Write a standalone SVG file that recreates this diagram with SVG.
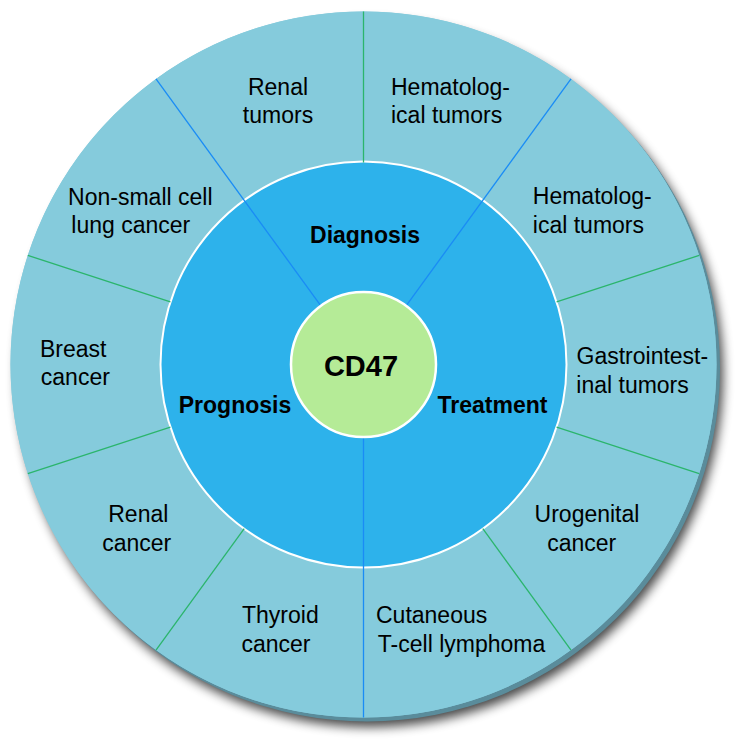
<svg xmlns="http://www.w3.org/2000/svg" width="750" height="751" viewBox="0 0 750 751">
<defs>
<filter id="shadow" x="-10%" y="-10%" width="125%" height="125%">
<feGaussianBlur stdDeviation="5.5"/>
</filter>
</defs>
<style>
.seg{fill:#85cbdc;}
.core{fill:#2db2eb;}
.t{font-family:"Liberation Sans",Arial,sans-serif;font-size:23px;fill:#000;}
.b{font-family:"Liberation Sans",Arial,sans-serif;font-size:23px;font-weight:bold;fill:#000;text-anchor:middle;}
.m{text-anchor:middle;}
.gl{stroke:#2bb56c;stroke-width:1.3;fill:none;}
.bl{stroke:#1a8cf5;stroke-width:1.3;fill:none;}
</style>
<rect width="750" height="751" fill="#ffffff"/>
<!-- shadow and rim -->
<circle cx="370" cy="374" r="353" fill="#000" opacity="0.72" filter="url(#shadow)"/>
<circle cx="367" cy="368.5" r="353" fill="#5a8c9b"/>
<circle cx="363.5" cy="364.5" r="353" class="seg"/>
<circle cx="363.5" cy="364.5" r="203" class="core"/>

<g id="seg-renal-tumors">
<path class="seg" d="M156.0 78.9 A353 353 0 0 1 363.5 11.5 L363.5 161.5 A203 203 0 0 0 244.2 200.3 Z"/>
<text class="t m" x="278" y="95">Renal</text>
<text class="t m" x="278" y="123">tumors</text>
</g>
<g id="seg-hematological-1">
<path class="seg" d="M363.5 11.5 A353 353 0 0 1 571.0 78.9 L482.8 200.3 A203 203 0 0 0 363.5 161.5 Z"/>
<text class="t" x="391" y="94.5">Hematolog-</text>
<text class="t" x="391" y="122.8">ical tumors</text>
</g>
<g id="seg-hematological-2">
<path class="seg" d="M571.0 78.9 A353 353 0 0 1 699.2 255.4 L556.6 301.8 A203 203 0 0 0 482.8 200.3 Z"/>
<text class="t" x="532.8" y="204.2">Hematolog-</text>
<text class="t" x="532.8" y="232.5">ical tumors</text>
</g>
<g id="seg-gastrointestinal">
<path class="seg" d="M699.2 255.4 A353 353 0 0 1 699.2 473.6 L556.6 427.2 A203 203 0 0 0 556.6 301.8 Z"/>
<text class="t" x="576.5" y="364.3">Gastrointest-</text>
<text class="t" x="576.3" y="392.5">inal tumors</text>
</g>
<g id="seg-urogenital">
<path class="seg" d="M699.2 473.6 A353 353 0 0 1 571.0 650.1 L482.8 528.7 A203 203 0 0 0 556.6 427.2 Z"/>
<text class="t m" x="587" y="522">Urogenital</text>
<text class="t m" x="581.7" y="550.5">cancer</text>
</g>
<g id="seg-cutaneous">
<path class="seg" d="M571.0 650.1 A353 353 0 0 1 363.5 717.5 L363.5 567.5 A203 203 0 0 0 482.8 528.7 Z"/>
<text class="t" x="376" y="623.3">Cutaneous</text>
<text class="t" x="377.8" y="651.7">T-cell lymphoma</text>
</g>
<g id="seg-thyroid">
<path class="seg" d="M363.5 717.5 A353 353 0 0 1 156.0 650.1 L244.2 528.7 A203 203 0 0 0 363.5 567.5 Z"/>
<text class="t" x="242" y="623.3">Thyroid</text>
<text class="t" x="241.4" y="651.7">cancer</text>
</g>
<g id="seg-renal-cancer">
<path class="seg" d="M156.0 650.1 A353 353 0 0 1 27.8 473.6 L170.4 427.2 A203 203 0 0 0 244.2 528.7 Z"/>
<text class="t m" x="138.3" y="522">Renal</text>
<text class="t m" x="136.7" y="550.5">cancer</text>
</g>
<g id="seg-breast">
<path class="seg" d="M27.8 473.6 A353 353 0 0 1 27.8 255.4 L170.4 301.8 A203 203 0 0 0 170.4 427.2 Z"/>
<text class="t" x="40" y="356.7">Breast</text>
<text class="t" x="40.8" y="384.8">cancer</text>
</g>
<g id="seg-nsclc">
<path class="seg" d="M27.8 255.4 A353 353 0 0 1 156.0 78.9 L244.2 200.3 A203 203 0 0 0 170.4 301.8 Z"/>
<text class="t m" x="140.3" y="205">Non-small cell</text>
<text class="t m" x="130.8" y="233.3">lung cancer</text>
</g>

<g id="diagnosis">
<path class="core" d="M244.2 200.3 A203 203 0 0 1 482.8 200.3 L406.1 305.85 A72.5 72.5 0 0 0 320.9 305.85 Z"/>
<text class="b" x="365" y="242.7">Diagnosis</text>
</g>
<g id="treatment">
<path class="core" d="M482.8 200.3 A203 203 0 0 1 363.5 567.5 L363.5 437 A72.5 72.5 0 0 0 406.1 305.85 Z"/>
<text class="b" x="492.5" y="413.3">Treatment</text>
</g>
<g id="prognosis">
<path class="core" d="M363.5 567.5 A203 203 0 0 1 244.2 200.3 L320.9 305.85 A72.5 72.5 0 0 0 363.5 437 Z"/>
<text class="b" x="235" y="413.3">Prognosis</text>
</g>

<circle cx="363.5" cy="364.5" r="203" fill="none" stroke="#ffffff" stroke-width="2"/>

<g id="dividers">
<line class="gl" x1="363.5" y1="162.5" x2="363.5" y2="11.5"/>
<line class="gl" x1="556.6" y1="301.8" x2="699.2" y2="255.4"/>
<line class="gl" x1="556.6" y1="427.2" x2="699.2" y2="473.6"/>
<line class="gl" x1="482.8" y1="528.7" x2="571.0" y2="650.1"/>
<line class="gl" x1="244.2" y1="528.7" x2="156.0" y2="650.1"/>
<line class="gl" x1="170.4" y1="427.2" x2="27.8" y2="473.6"/>
<line class="gl" x1="170.4" y1="301.8" x2="27.8" y2="255.4"/>
<line class="bl" x1="320.9" y1="305.85" x2="156.0" y2="78.9"/>
<line class="bl" x1="406.1" y1="305.85" x2="571.0" y2="78.9"/>
<line class="bl" x1="363.5" y1="437" x2="363.5" y2="717.5"/>
</g>

<g id="cd47">
<circle cx="363.5" cy="364.5" r="72.5" fill="#b5eb97" stroke="#ffffff" stroke-width="2.5"/>
<text class="b" x="361" y="376" style="font-size:29px">CD47</text>
</g>
</svg>
